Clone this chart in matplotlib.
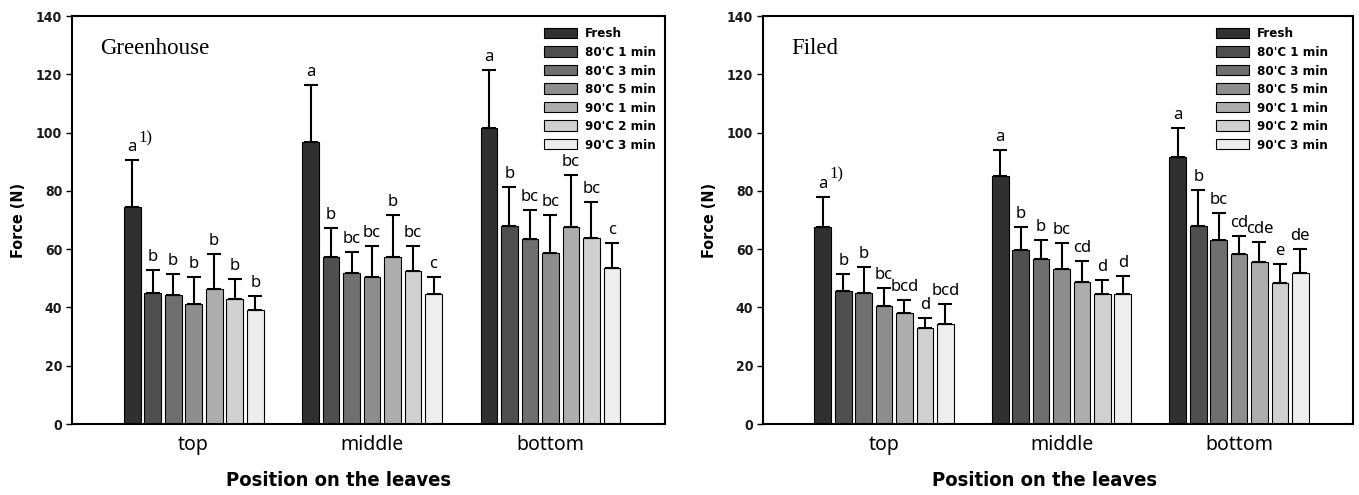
import numpy as np
import matplotlib
matplotlib.use("Agg")
import matplotlib.pyplot as plt

positions = ["top", "middle", "bottom"]
treatments = ["Fresh", "80'C 1 min", "80'C 3 min", "80'C 5 min",
              "90'C 1 min", "90'C 2 min", "90'C 3 min"]
colors = ["#303030", "#4f4f4f", "#6f6f6f", "#8e8e8e", "#adadad", "#d0d0d0", "#eeeeee"]

# mean force (N), rows = treatments, columns = top/middle/bottom
gh_mean = [[74.6, 96.9, 101.7],
           [44.9, 57.2, 67.9],
           [44.3, 51.9, 63.4],
           [41.1, 50.3, 58.6],
           [46.2, 57.2, 67.5],
           [42.8, 52.6, 63.7],
           [39.0, 44.6, 53.4]]
gh_sd = [[16.0, 19.4, 19.8],
         [8.0, 10.0, 13.3],
         [7.2, 7.2, 10.0],
         [9.5, 10.8, 13.1],
         [12.1, 14.5, 17.8],
         [6.9, 8.5, 12.6],
         [5.0, 6.0, 8.6]]
gh_letters = [["a", "a", "a"],
              ["b", "b", "b"],
              ["b", "bc", "bc"],
              ["b", "bc", "bc"],
              ["b", "b", "bc"],
              ["b", "bc", "bc"],
              ["b", "c", "c"]]

fi_mean = [[67.7, 85.1, 91.7],
           [45.6, 59.7, 68.1],
           [45.1, 56.6, 63.1],
           [40.5, 53.2, 58.2],
           [38.2, 48.8, 55.5],
           [32.8, 44.5, 48.5],
           [34.3, 44.5, 51.9]]
fi_sd = [[10.3, 8.9, 9.8],
         [5.8, 8.0, 12.2],
         [8.9, 6.5, 9.2],
         [6.1, 9.0, 6.4],
         [4.4, 7.2, 6.9],
         [3.5, 4.9, 6.3],
         [6.8, 6.4, 8.1]]
fi_letters = [["a", "a", "a"],
              ["b", "b", "b"],
              ["b", "b", "bc"],
              ["bc", "bc", "cd"],
              ["bcd", "cd", "cde"],
              ["d", "d", "e"],
              ["bcd", "d", "de"]]

sans = ["DejaVu Sans"]
serif = ["Liberation Serif", "DejaVu Serif"]
letter_font = ["Noto Sans", "DejaVu Sans"]


def draw_panel(ax, means, sds, letters, title, legend_x, xlabel_x):
    centers = np.arange(1, len(positions) + 1)
    pitch = 0.115
    width = 0.094
    for i in range(len(treatments)):
        x = centers + (i - 3) * pitch
        m = np.array(means[i])
        s = np.array(sds[i])
        ax.bar(x, m, width, color=colors[i], edgecolor="black", linewidth=0.8,
               label=treatments[i], zorder=2)
        ax.errorbar(x, m, yerr=[np.zeros_like(s), s], fmt="none", ecolor="black",
                    elinewidth=1.5, capsize=5, capthick=1.5, zorder=3)
        for j in range(len(positions)):
            ax.annotate(letters[i][j], (x[j], m[j] + s[j]), xytext=(0, 6.5),
                        textcoords="offset points", ha="center", va="baseline",
                        fontsize=12, family=letter_font)
    # footnote mark next to the first letter
    ax.annotate("1)", (centers[0] - 3 * pitch, means[0][0] + sds[0][0]),
                xytext=(4.5, 13), textcoords="offset points", ha="left",
                va="baseline", fontsize=12, family=serif)

    ax.set_xlim(0.318, 3.642)
    ax.set_ylim(0, 140)
    ax.set_yticks(np.arange(0, 141, 20))
    ax.set_xticks(centers)
    ax.set_xticklabels(positions, fontsize=14, family=letter_font)
    ax.tick_params(axis="x", length=0, pad=8)
    ax.tick_params(axis="y", direction="out", length=4, width=1, pad=3)
    for lab in ax.get_yticklabels():
        lab.set_family(sans)
        lab.set_fontstretch("condensed")
        lab.set_fontweight("bold")
        lab.set_fontsize(10)
        lab.set_color("#1a1a1a")
    for sp in ax.spines.values():
        sp.set_linewidth(1.5)

    ax.set_ylabel("Force (N)", fontsize=11.5, fontweight="bold", family=sans,
                  fontstretch="condensed")
    ax.yaxis.set_label_coords(-0.078, 0.5)
    ax.set_xlabel("Position on the leaves", fontsize=14.5, fontweight="bold",
                  family=sans, fontstretch="condensed")
    ax.xaxis.set_label_coords(xlabel_x, -0.115)
    ax.xaxis.label.set_va("top")

    ax.text(0.048, 0.92, title, transform=ax.transAxes, fontsize=16.5,
            family=serif, va="center", ha="left")

    leg = ax.legend(loc="upper right", bbox_to_anchor=(legend_x, 0.972),
                    frameon=False, handlelength=2.5, handleheight=0.85,
                    labelspacing=0.42, handletextpad=0.6, borderpad=0,
                    borderaxespad=0,
                    prop={"family": sans, "weight": "bold", "size": 9.5,
                          "stretch": "condensed"})
    return leg


fig = plt.figure(figsize=(13.59, 4.95), dpi=100)
ax1 = fig.add_axes([72 / 1359, 71 / 495, 593 / 1359, 408 / 495])
ax2 = fig.add_axes([763 / 1359, 71 / 495, 590 / 1359, 408 / 495])

draw_panel(ax1, gh_mean, gh_sd, gh_letters, "Greenhouse", 0.985, 0.449)
draw_panel(ax2, fi_mean, fi_sd, fi_letters, "Filed", 0.958, 0.478)

fig.savefig("out.png", dpi=100)
